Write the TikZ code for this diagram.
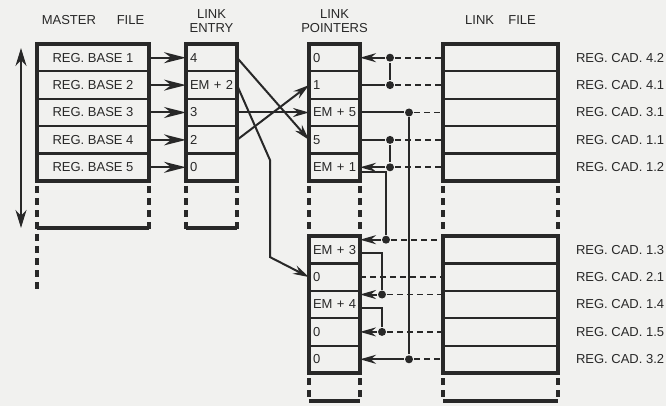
\documentclass[tikz,border=0pt]{standalone}
\usepackage{xcolor}
\usepackage{fontspec}
\setmainfont{Liberation Sans}
\usetikzlibrary{arrows.meta, positioning}

\definecolor{paper}{RGB}{241,241,239}
\definecolor{ink}{RGB}{40,40,40}

\begin{document}
\begin{tikzpicture}[
        x = 1pt, y = -1pt, % pixel grid, y grows downwards
        > = {Stealth[length=16pt, width=9pt]}, % arrow head style
        color = ink,
        line width = 2pt, % line style
        font = \fontsize{13}{14}\selectfont,
        cell/.style = {rectangle, draw, line width=2.2pt, outer sep=0pt,
            minimum height=27.4pt, inner sep=0pt},
        base/.style = {cell, minimum width=112pt},
        slot/.style = {cell, minimum width=51pt, text width=43pt,
            inner xsep=4pt, align=left},
        rec/.style = {cell, minimum width=115pt},
        tag/.style = {inner sep=0pt, anchor=west},
        frame/.style = {line width=3.2pt},
        stub/.style = {line width=3.2pt, dash pattern=on 7pt off 5pt},
        dot/.style = {circle, fill, inner sep=0pt, minimum size=8pt},
        trace/.style = {line width=1.8pt, dash pattern=on 6pt off 4pt},
        big/.style = {-{Stealth[length=22pt, width=11pt]}},
    ]
        \fill[paper] (0,0) rectangle (666,406);

        % Draw the cells
        \foreach \y/\i/\e/\p/\q in {
            57.7/1/4/0/EM + 3,
            85.1/2/EM + 2/1/0,
            112.5/3/3/EM + 5/EM + 4,
            139.9/4/2/5/0,
            167.3/5/0/EM + 1/0} {
            \node[base] (m\i) at (93, \y) {REG. BASE \i};
            \node[slot] (e\i) at (211.5, \y) {\e};
            \node[slot] (p\i) at (334.5, \y) {\p};
            \node[slot] (q\i) at (334.5, \y + 192) {\q};
            \node[rec] (f\i) at (500.5, \y) {};
            \node[rec] (g\i) at (500.5, \y + 192) {};
        }

        % Frames and open ends
        \foreach \a/\b in {m1/m5, e1/e5, p1/p5, q1/q5, f1/f5, g1/g5} {
            \draw[frame] (\a.north west) rectangle (\b.south east);
        }
        \foreach \b in {m5, e5, p5, f5} {
            \draw[stub] ([yshift=-5pt]\b.south west) -- ++(0,43);
            \draw[stub] ([yshift=-5pt]\b.south east) -- ++(0,43);
        }
        \draw[stub] ([yshift=-53pt]m5.south west) -- ++(0,57);
        \foreach \b in {m5, e5} {
            \draw[frame] ([yshift=-47pt]\b.south west) -- ([yshift=-47pt]\b.south east);
        }
        \foreach \b in {q5, g5} {
            \draw[stub] ([yshift=-5pt]\b.south west) -- ++(0,23);
            \draw[stub] ([yshift=-5pt]\b.south east) -- ++(0,23);
            \draw[frame] ([yshift=-28pt]\b.south west) -- ([yshift=-28pt]\b.south east);
        }

        % Headings
        \node (mt) at ([yshift=24pt]m1.north) {MASTER\hspace{1.6em}FILE};
        \node[align=center] (et) at ([yshift=23pt]e1.north) {LINK\\ENTRY};
        \node[align=center] (pt) at ([yshift=23pt]p1.north) {LINK\\POINTERS};
        \node (ft) at ([yshift=24pt]f1.north) {LINK\hspace{1.1em}FILE};

        % Record names
        \foreach \f/\t in {f1/4.2, f2/4.1, f3/3.1, f4/1.1, f5/1.2,
            g1/1.3, g2/2.1, g3/1.4, g4/1.5, g5/3.2} {
            \node[tag, right=17pt of \f] (c\f) {REG. CAD. \t};
        }

        % Scan arrow
        \coordinate (up) at ([xshift=-16pt, yshift=-4pt]m1.north west);
        \coordinate (down) at ([xshift=-16pt, yshift=-47pt]m5.south west);
        \draw[{Stealth[length=18pt, width=11pt]}-{Stealth[length=18pt, width=11pt]}] (up) -- (down);

        % Master file to link entry
        \foreach \i in {1,...,5} {
            \draw[big] (m\i) -- (e\i);
        }

        % Link entry to link pointers
        \draw[->] (e1.east) -- (p4.west);
        \draw[->] (e3) -- (p3);
        \draw[->] (e4.east) -- (p2.west);
        \draw[->] (e2.east) -- ++(33,75) -- ++(0,97) -- (q2.west);

        % Junctions
        \node[dot] (d1) at ([xshift=30pt]p1.east) {};
        \node[dot] (d2) at ([xshift=30pt]p2.east) {};
        \node[dot] (d3) at ([xshift=49pt]p3.east) {};
        \node[dot] (d4) at ([xshift=30pt]p4.east) {};
        \node[dot] (d5) at ([xshift=30pt]p5.east) {};
        \node[dot] (d6) at ([xshift=26pt, yshift=10pt]q1.east) {};
        \node[dot] (d7) at ([xshift=22pt, yshift=10pt]q3.east) {};
        \node[dot] (d8) at ([xshift=22pt]q4.east) {};
        \node[dot] (d9) at ([xshift=49pt]q5.east) {};

        % Pointer chains
        \draw (p2.east) -- (d2);
        \draw (d2) -- (d1);
        \draw (p3.east) -- (d3);
        \draw (d3) -- (d9);
        \draw (p4.east) -- (d4);
        \draw (d4) -- (d5);
        \draw ([yshift=-5pt]p5.east) -| (d6);
        \draw ([yshift=-3pt]q1.east) -| (d7);
        \draw ([yshift=-3pt]q3.east) -| (d8);
        \foreach \d/\c in {d1/p1, d5/p5, d6/q1, d7/q3, d8/q4, d9/q5} {
            \draw[->] (\d) -- (\d -| \c.east);
        }

        % Links to the link file
        \foreach \d/\r in {d1/f1, d2/f2, d3/f3, d4/f4, d5/f5,
            d6/g1, d7/g3, d8/g4, d9/g5} {
            \draw[trace] (\d) -- (\d -| \r.west);
        }
        \draw[trace] (q2.east) -- (g2.west);
    \end{tikzpicture}
\end{document}
